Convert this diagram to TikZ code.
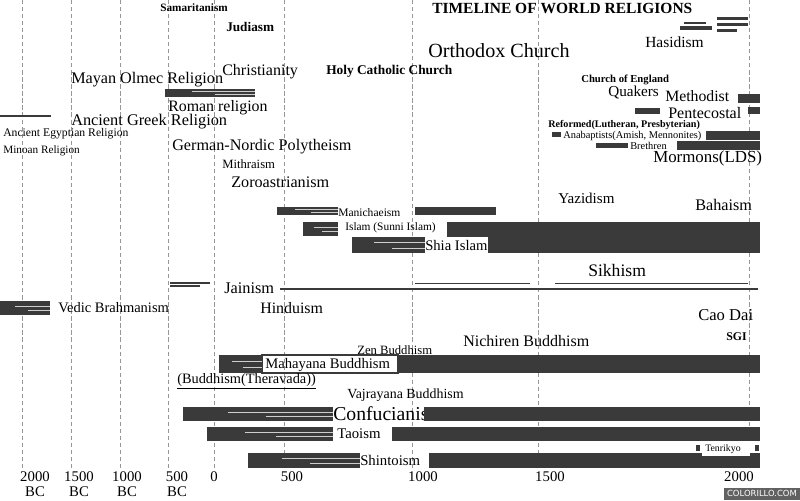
\documentclass[tikz,border=0pt]{standalone}
\usepackage{fontspec}
\setmainfont{Liberation Serif}
\newfontfamily\wmfont{DejaVu Sans}
\usetikzlibrary{positioning}
\definecolor{barcol}{RGB}{58,58,58}
\definecolor{gridcol}{RGB}{150,150,150}
\newcommand\fsz[1]{\fontsize{#1}{#1}\selectfont}
\tikzset{
  rel/.style={anchor=west,inner sep=0pt,font=\fsz{#1}},
  rel/.default=11,
  relb/.style={anchor=west,inner sep=0pt,font=\fsz{#1}\bfseries},
  relb/.default=8,
  bar/.style={fill=barcol},
  streak/.style={draw=white!75!barcol,line width=0.5pt},
  grid line/.style={draw=gridcol,line width=0.5pt,dash pattern=on 3pt off 2pt},
  year/.style={font=\fsz{10.5},inner sep=0pt},
}
\begin{document}
\begin{tikzpicture}[x=0.025cm,y=-0.025cm]
    \useasboundingbox[fill=white] (0,0) rectangle (800,500);
    % year grid
    \foreach \x in {22,71,120,168,214,284,412,538,749}
      \draw[grid line] (\x,0) -- (\x,470);
    \foreach \x/\t [count=\i] in {35/2000,79/1500,127/1000,177/500}{
      \node[year] (bc\i) at (\x,477) {\t};
      \node[year,below=3pt of bc\i] (bcl\i) {BC};
    }
    \foreach \x/\t [count=\i] in {214/0,292/500,423/1000,550/1500,739/2000}
      \node[year] (ad\i) at (\x,477) {\t};
    % title and top block
    \node[relb=11] (title) at (432,8) {TIMELINE OF WORLD RELIGIONS};
    \node[relb=8] (samar) at (160,8) {Samaritanism};
    \node[relb=9.4] (judi) at (226,27) {Judiasm};
    \node[rel=11] (hasid) at (645,42) {Hasidism};
    \node[rel=14.3] (orth) at (428,51) {Orthodox Church};
    \node[rel=11.4] (christ) at (222,72) {Christianity};
    \node[relb=9.5] (holy) at (326,71) {Holy Catholic Church};
    \node[rel=11.5] (mayan) at (71,80) {Mayan Olmec Religion};
    \node[rel=11.3] (roman) at (168,108) {Roman religion};
    \node[rel=11.6] (greek) at (71,122) {Ancient Greek Religion};
    \node[rel=8.3] (egypt) at (3,134) {Ancient Egyptian Religion};
    \node[rel=8] (minoan) at (3,151) {Minoan Religion};
    \node[rel=11.5] (german) at (172,147) {German-Nordic Polytheism};
    \node[rel=9] (mithr) at (222,164) {Mithraism};
    \node[rel=11.5] (zoro) at (231,182) {Zoroastrianism};
    \fill[bar] (680,26) rectangle (712,30);
    \draw[barcol,line width=0.8pt] (684,23) -- (706,23);
    \foreach \y/\l in {17/748,23/748,29/737}
      \fill[bar] (717,\y) rectangle (\l,\y+3);
    % protestant branches
    \node[relb=7.6] (coe) at (581,80) {Church of England};
    \node[rel=10.8] (quak) at (608,92.5) {Quakers};
    \node[rel=11.2] (meth) at (665,96.5) {Methodist};
    \node[rel=11.4] (pente) at (668,113) {Pentecostal};
    \node[relb=7.2] (reform) at (548,125.5) {Reformed(Lutheran, Presbyterian)};
    \node[rel=7.4] (anab) at (563,135.5) {Anabaptists(Amish, Mennonites)};
    \node[rel=7.4] (breth) at (630,145.5) {Brethren};
    \node[rel=12] (mormon) at (653,158) {Mormons(LDS)};
    \foreach \xa/\ya/\xb/\yb in {738/94/760/103,635/108/660/114,748/107/760/114,
      552/132/561/137,706/131/760/140,596/143/628/148,677/141/760/150}
      \fill[bar] (\xa,\ya) rectangle (\xb,\yb);
    % middle block
    \node[rel=10.7] (yaz) at (558,198) {Yazidism};
    \node[rel=11.5] (bahai) at (695,205) {Bahaism};
    \node[rel=8.2] (mani) at (338,213) {Manichaeism};
    \node[rel=8.1] (islam) at (345,228) {Islam (Sunni Islam)};
    \node[rel=10.4] (shia) at (425,245) {Shia Islam};
    \node[rel=12.5] (sikh) at (588,270) {Sikhism};
    \node[rel=11.6] (jain) at (224,288) {Jainism};
    \node[rel=10.3] (vedic) at (58,308) {Vedic Brahmanism};
    \node[rel=11.3] (hindu) at (260,308) {Hinduism};
    \node[rel=11.8] (caodai) at (698,315) {Cao Dai};
    \fill[bar] (415,207) rectangle (496,215);
    \fill[bar] (447,222) rectangle (760,237);
    \fill[bar] (488,237) rectangle (760,253);
    \draw[barcol,line width=0.8pt] (170,283) -- (210,283) (170,286) -- (200,286);
    \draw[barcol,line width=0.8pt] (280,289) -- (758,289);
    \draw[barcol,line width=0.5pt] (415,283) -- (530,283) (555,283) -- (748,283);
    % eastern block
    \node[relb=8.4] (sgi) at (726,337) {SGI};
    \node[rel=11.4] (nichi) at (463,341) {Nichiren Buddhism};
    \node[rel=9] (zen) at (357,350) {Zen Buddhism};
    \draw[barcol,line width=0.8pt] (262,355) rectangle (398,373);
    \node[rel=10.4] (maha) at (265,364.5) {Mahayana Buddhism};
    \node[rel=10.2] (thera) at (177,381) {\underline{(Buddhism(Theravada))}};
    \node[rel=9.9] (vajra) at (347,395) {Vajrayana Buddhism};
    \node[rel=14] (conf) at (333,414) {Confucianism};
    \node[rel=10.5] (tao) at (337,434) {Taoism};
    \node[rel=10.5] (shinto) at (360,460) {Shintoism};
    \foreach \xa/\ya/\xb/\yb in {398/355/760/373,424/407/760/421,392/427/760/441,429/453/760/468}
      \fill[bar] (\xa,\ya) rectangle (\xb,\yb);
    % early, scanned-looking bars
    \foreach \xa/\ya/\xb/\yb in {165/89/255/97,0/301/50/315,277/207/338/215,303/222/338/236,
      352/237/425/253,219/355/262/373,183/407/333/421,207/427/333/441,248/453/360/468}{
      \fill[bar] (\xa,\ya) rectangle (\xb,\yb);
      \draw[streak] ({\xa+0.3*(\xb-\xa)},{\ya+0.35*(\yb-\ya)}) -- (\xb,{\ya+0.35*(\yb-\ya)});
      \draw[streak] ({\xa+0.55*(\xb-\xa)},{\ya+0.7*(\yb-\ya)}) -- (\xb,{\ya+0.7*(\yb-\ya)});
    }
    \draw[barcol,line width=0.8pt] (0,116) -- (51,116);
    % tenrikyo
    \fill[white] (702,443) rectangle (750,456);
    \node[rel=7] (tenri) at (705,449) {Tenrikyo};
    \fill[bar] (696,445) rectangle (700,451);
    \fill[bar] (755,445) rectangle (759,451);
    % watermark
    \node[fill=barcol!80,text=white,font=\wmfont\fsz{6},inner sep=2pt,anchor=south east] (mark) at (800,500) {COLORILLO.COM};
  \end{tikzpicture}
\end{document}
